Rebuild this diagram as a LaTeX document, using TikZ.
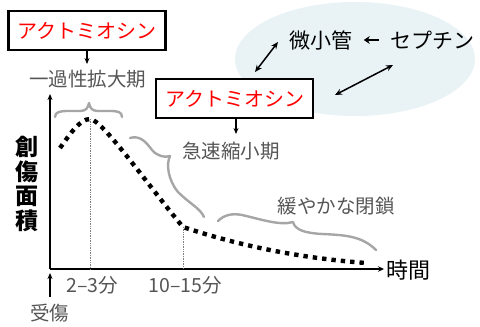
\documentclass[tikz,border=0pt]{standalone}
\usepackage{fontspec}
\setmainfont{Noto Sans CJK JP}
\usetikzlibrary{arrows.meta}
\definecolor{ellcol}{HTML}{E9F3F6}
\definecolor{txtgray}{HTML}{555555}
\definecolor{brgray}{HTML}{A6A6A6}
\begin{document}
\begin{tikzpicture}[x=1pt,y=-1pt,
  abox/.style={draw=black,line width=2.6pt,fill=white,minimum width=157pt,minimum height=39pt,inner sep=0pt,text=red,font=\fontsize{20}{24}\selectfont},
  lab/.style={inner sep=0pt,text=txtgray,font=\fontsize{19.5}{23}\selectfont},
  blk/.style={inner sep=0pt,text=black,font=\fontsize{21}{24}\selectfont},
  arr/.style={line width=1.6pt,-{Stealth[length=6pt,width=5pt]}},
  darr/.style={line width=1.5pt,{Stealth[length=7pt,width=6pt]}-{Stealth[length=7pt,width=6pt]}},
  brc/.style={draw=brgray,line width=2.4pt,line cap=round,line join=round},
  dots/.style={line width=4.4pt,dash pattern=on 4.4pt off 5pt,line cap=butt},
  guide/.style={draw=gray,line width=0.7pt,densely dotted}]
\useasboundingbox (0,0) rectangle (480,327);
% ellipse background
\fill[ellcol] (355,59) ellipse [x radius=120pt, y radius=57pt];
% nodes
\node[abox] (b1) at (87,30.5) {アクトミオシン};
\node[lab] (t1) at (88,79) {一過性拡大期};
\node[abox] (b2) at (234.5,98.5) {アクトミオシン};
\node[lab] (t2) at (231,151) {急速縮小期};
\node[lab] (t3) at (336,206) {緩やかな閉鎖};
\node[blk] (mt) at (321,40) {微小管};
\node[blk] (sp) at (432,40) {セプチン};
\coordinate (a1e) at (87,64);
\coordinate (a2e) at (236,134);
\draw[arr] (b1.south) -- (a1e);
\draw[arr] (b2.south -| a2e) -- (a2e);
\draw[line width=2.6pt,-{Stealth[length=6pt,width=8pt]}] (sp.west) ++(-11,0) coordinate (spa) -- ++(-15,0) coordinate (spb);
\coordinate (d1a) at (255,72);
\coordinate (d1b) at (278,42);
\coordinate (d2a) at (335,95);
\coordinate (d2b) at (393,65);
\draw[darr] (d1a) -- (d1b);
\draw[darr] (d2a) -- (d2b);
% axes
\coordinate (O) at (50,269);
\coordinate (Ytop) at (50,94);
\coordinate (Xend) at (384,269);
\draw[line width=1.8pt,-{Stealth[length=6pt,width=5pt]}] (O) -- (Ytop);
\draw[line width=1.8pt,-{Stealth[length=6pt,width=5.5pt]}] (O) -- (Xend);
\node[blk,font=\fontsize{22}{26}\selectfont,anchor=west] (time) at (386,270) {時間};
\node[inner sep=0pt,font=\fontsize{23}{24.5}\bfseries\selectfont,align=center] (area) at (27,184) {創\\傷\\面\\積};
% curve
\coordinate (p0) at (60,148);
\coordinate (pk) at (90,119);
\coordinate (pm) at (183,227);
\coordinate (pe) at (366,263);
\draw[guide] (pk) -- (pk |- O);
\draw[guide] (pm) -- (pm |- O);
\draw[dots] (p0) .. controls (70,134) and (80,119) .. (pk)
  .. controls (102,119) and (150,188) .. (pm)
  .. controls (240,246) and (300,258) .. (pe);
% tick labels
\node[lab] (k1) at (92,285) {2–3分};
\node[lab] (k2) at (185,285) {10–15分};
\coordinate (inj) at (50,297);
\draw[line width=2pt,-{Stealth[length=6pt,width=5pt]}] (inj) -- (50,273);
\node[lab] (k3) at (50,313) {受傷};
% braces
\draw[brc] (55,117) .. controls (55,112) and (60,111) .. (68,111) -- (80,111)
  .. controls (86,111) and (88,108) .. (89,103)
  .. controls (90,108) and (92,111) .. (98,111) -- (110,111)
  .. controls (118,111) and (122,112) .. (122,117);
\draw[brc] (130,138) .. controls (140,135) and (146,142) .. (152,150)
  .. controls (157,156) and (165,158) .. (170,156)
  .. controls (166,164) and (168,180) .. (178,192)
  .. controls (190,204) and (200,208) .. (204,217);
\draw[brc] (218,221) .. controls (224,215) and (232,213) .. (242,215)
  .. controls (260,219) and (280,226) .. (293,222)
  .. controls (295,230) and (305,233) .. (322,234)
  .. controls (345,235) and (362,236) .. (376,250);
\end{tikzpicture}
\end{document}
